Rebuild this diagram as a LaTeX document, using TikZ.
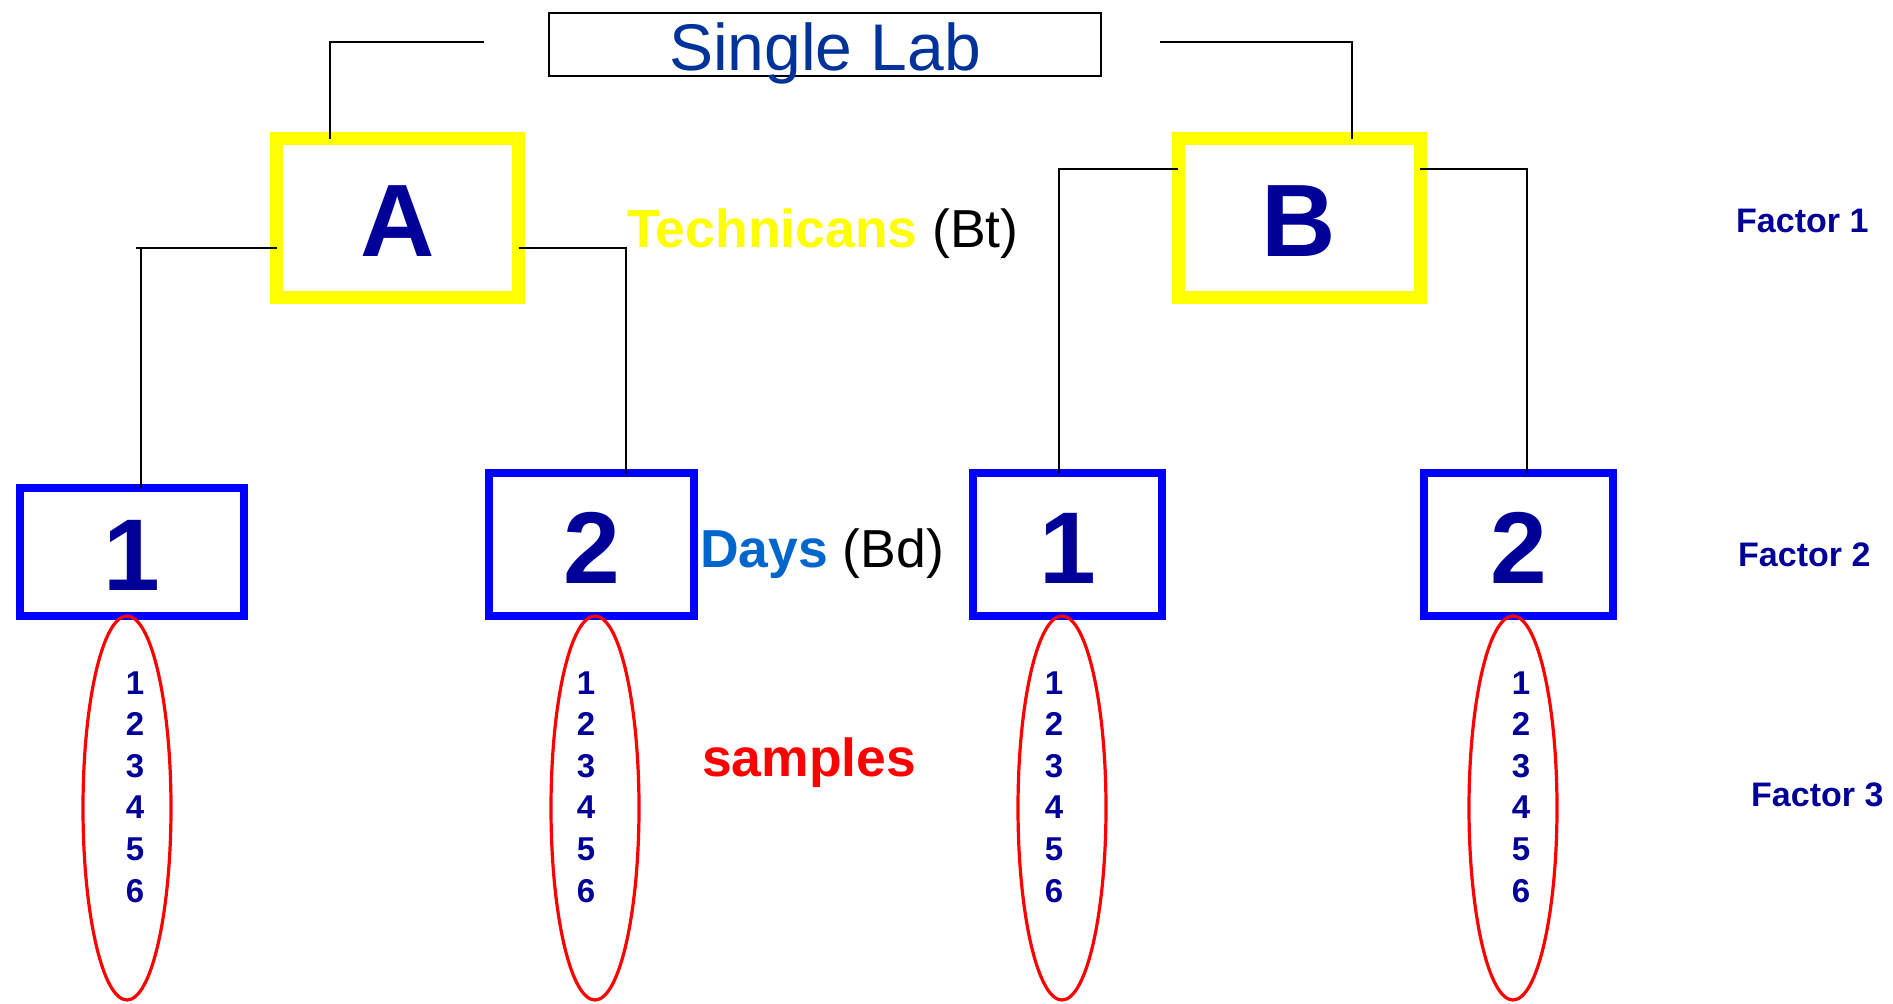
\documentclass[tikz,border=0pt]{standalone}
\usepackage{fontspec}
\setmainfont{Liberation Sans}
\usetikzlibrary{shapes.geometric}
\definecolor{navy}{RGB}{0,0,153}
\definecolor{labblue}{RGB}{0,51,153}
\definecolor{dayblue}{RGB}{0,102,204}
\definecolor{techyellow}{RGB}{255,255,0}
\definecolor{dayframe}{RGB}{0,0,255}
\definecolor{ringred}{RGB}{255,0,0}
\begin{document}
\begin{tikzpicture}[x=1pt,y=-1pt,
  labbox/.style={draw=black, line width=2pt, minimum width=552pt, minimum height=63pt,
    inner sep=0pt, outer sep=0pt, text=labblue, font=\fontsize{66}{72}\selectfont,
    text height=52pt, text depth=0pt},
  techbox/.style={draw=techyellow, line width=13pt, minimum width=242pt, minimum height=159pt,
    inner sep=0pt, outer sep=0pt, text=navy, font=\fontsize{103}{110}\selectfont\bfseries,
    text height=77pt, text depth=0pt},
  daybox/.style={draw=dayframe, line width=8pt, inner sep=0pt, outer sep=0pt, text=navy,
    font=\fontsize{102}{110}\selectfont\bfseries, text depth=0pt},
  sampring/.style={ellipse, draw=ringred, line width=3.2pt, minimum width=88pt,
    minimum height=384pt, inner sep=0pt, outer sep=0pt},
  smp/.style={anchor=base, inner sep=0pt, text=navy, font=\fontsize{33}{40}\selectfont\bfseries},
  lbl/.style={anchor=base west, inner sep=0pt, font=\fontsize{53.5}{60}\selectfont},
  factor/.style={anchor=base west, inner sep=0pt, text=navy, font=\fontsize{34}{40}\selectfont\bfseries},
  wire/.style={draw=black, line width=2pt}
]
\useasboundingbox (0,0) rectangle (1893,1004);

% top level
\node[labbox] (lab) at (825,44) {Single Lab};

% technicians
\node[techbox] (A) at (397.5,218) {A};
\node[techbox] (B) at (1299,218) {B};

% days
\node[daybox, minimum width=224pt, minimum height=128pt, text height=76pt] (d1) at (132,552) {1};
\node[daybox, minimum width=205pt, minimum height=143pt, text height=77pt] (d2) at (591.5,544.5) {2};
\node[daybox, minimum width=189pt, minimum height=143pt, text height=77pt] (d3) at (1067.5,544.5) {1};
\node[daybox, minimum width=189pt, minimum height=143pt, text height=77pt] (d4) at (1518.5,544.5) {2};

% sample groups
\node[sampring] (r1) at (127,808) {};
\node[sampring] (r2) at (595,808) {};
\node[sampring] (r3) at (1062,808) {};
\node[sampring] (r4) at (1513,808) {};
\foreach \c/\x in {1/135, 2/586, 3/1054, 4/1521}{
  \foreach \i in {1,...,6}{
    \node[smp] (s\c-\i) at (\x, {694 + (\i-1)*41.6}) {\i};
  }
}

% level labels
\node[lbl] (tech) at (627,247) {\textcolor{techyellow}{\bfseries Technicans} (Bt)};
\node[lbl] (days) at (700,567) {\textcolor{dayblue}{\bfseries Days} (Bd)};
\node[lbl, text=ringred] (samples) at (702,776) {\bfseries samples};

\node[factor] (f1) at (1736,232) {Factor 1};
\node[factor] (f2) at (1738,566) {Factor 2};
\node[factor] (f3) at (1751,806) {Factor 3};

% connectors
\coordinate (labL) at (484,42);
\coordinate (labR) at (1160,42);
\coordinate (aL) at (136,248);
\draw[wire] (labL) -| ([xshift=53.5pt]A.north west);
\draw[wire] (labR) -| ([xshift=173.5pt]B.north west);
\draw[wire] ([yshift=-30pt]A.west) -- (aL);
\draw[wire] ([yshift=-30pt,xshift=-135.5pt]A.west) -- ([xshift=9pt]d1.north);
\draw[wire] ([yshift=-30pt]A.east) -| ([xshift=34.5pt]d2.north);
\draw[wire] ([yshift=49pt]B.west) -| ([xshift=-8.5pt]d3.north);
\draw[wire] ([yshift=49pt]B.east) -| ([xshift=8.5pt]d4.north);
\end{tikzpicture}
\end{document}
